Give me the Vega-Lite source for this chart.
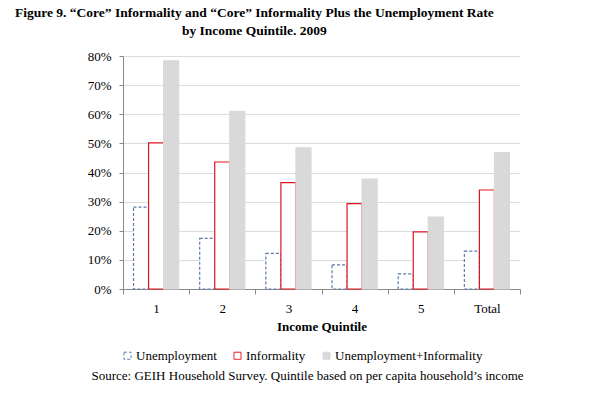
{
  "$schema": "https://vega.github.io/schema/vega-lite/v6.json",
  "background": "white",
  "padding": {"left": 14, "top": 5, "right": 5, "bottom": 5},
  "title": {
    "text": ["Figure 9. “Core” Informality and “Core” Informality Plus the Unemployment Rate", "by Income Quintile. 2009"],
    "font": "Liberation Serif",
    "fontSize": 13.5,
    "fontWeight": "bold",
    "color": "black",
    "anchor": "middle",
    "lineHeight": 18,
    "dx": -51,
    "offset": 13
  },
  "config": {
    "view": {"stroke": null},
    "font": "Liberation Serif",
    "concat": {"spacing": 35}
  },
  "datasets": {
    "bars": [
      {"quintile": "1", "series": "Unemployment", "value": 0.281},
      {"quintile": "1", "series": "Informality", "value": 0.502},
      {"quintile": "1", "series": "Unemployment+Informality", "value": 0.783},
      {"quintile": "2", "series": "Unemployment", "value": 0.174},
      {"quintile": "2", "series": "Informality", "value": 0.436},
      {"quintile": "2", "series": "Unemployment+Informality", "value": 0.61},
      {"quintile": "3", "series": "Unemployment", "value": 0.122},
      {"quintile": "3", "series": "Informality", "value": 0.365},
      {"quintile": "3", "series": "Unemployment+Informality", "value": 0.485},
      {"quintile": "4", "series": "Unemployment", "value": 0.083},
      {"quintile": "4", "series": "Informality", "value": 0.293},
      {"quintile": "4", "series": "Unemployment+Informality", "value": 0.377},
      {"quintile": "5", "series": "Unemployment", "value": 0.052},
      {"quintile": "5", "series": "Informality", "value": 0.196},
      {"quintile": "5", "series": "Unemployment+Informality", "value": 0.247},
      {"quintile": "Total", "series": "Unemployment", "value": 0.13},
      {"quintile": "Total", "series": "Informality", "value": 0.34},
      {"quintile": "Total", "series": "Unemployment+Informality", "value": 0.468}
    ],
    "source": [
      {"note": "Source: GEIH Household Survey. Quintile based on per capita household’s income"}
    ]
  },
  "vconcat": [
    {
      "width": 397,
      "height": 233,
      "data": {"name": "bars"},
      "mark": {"type": "bar", "strokeWidth": 1.2},
      "encoding": {
        "x": {
          "field": "quintile",
          "type": "nominal",
          "sort": ["1", "2", "3", "4", "5", "Total"],
          "scale": {"paddingInner": 0, "paddingOuter": 0},
          "axis": {
            "title": "Income Quintile",
            "titleFont": "Liberation Serif",
            "titleFontSize": 13,
            "titleFontWeight": "bold",
            "titleColor": "black",
            "titlePadding": 5,
            "labelAngle": 0,
            "labelFont": "Liberation Serif",
            "labelFontSize": 13,
            "labelColor": "black",
            "labelPadding": 8,
            "tickBand": "extent",
            "tickSize": 5,
            "tickColor": "#888888",
            "domainColor": "#888888",
            "grid": false
          }
        },
        "xOffset": {
          "field": "series",
          "type": "nominal",
          "sort": ["Unemployment", "Informality", "Unemployment+Informality"],
          "scale": {"paddingInner": 0, "paddingOuter": 0.7}
        },
        "y": {
          "field": "value",
          "type": "quantitative",
          "scale": {"domain": [0, 0.8], "nice": false},
          "axis": {
            "title": null,
            "format": ".0%",
            "values": [0, 0.1, 0.2, 0.3, 0.4, 0.5, 0.6, 0.7, 0.8],
            "labelFont": "Liberation Serif",
            "labelFontSize": 13,
            "labelColor": "black",
            "labelPadding": 8,
            "tickSize": 4,
            "tickColor": "#888888",
            "domainColor": "#888888",
            "gridColor": "#dcdcdc"
          }
        },
        "fill": {
          "field": "series",
          "type": "nominal",
          "scale": {
            "domain": ["Unemployment", "Informality", "Unemployment+Informality"],
            "range": ["#ffffff", "#ffffff", "#d9d9d9"]
          },
          "legend": {
            "title": null,
            "orient": "none",
            "legendX": -2,
            "legendY": 293,
            "direction": "horizontal",
            "symbolType": "square",
            "symbolSize": 50,
            "symbolStrokeWidth": 1,
            "labelFont": "Liberation Serif",
            "labelFontSize": 13,
            "labelColor": "black",
            "labelOffset": 2,
            "columnPadding": 14
          }
        },
        "stroke": {
          "field": "series",
          "type": "nominal",
          "scale": {
            "domain": ["Unemployment", "Informality", "Unemployment+Informality"],
            "range": ["#5b7bab", "#e0141e", "#d9d9d9"]
          }
        },
        "strokeDash": {
          "field": "series",
          "type": "nominal",
          "scale": {
            "domain": ["Unemployment", "Informality", "Unemployment+Informality"],
            "range": [[3, 2], [1, 0], [1, 0]]
          }
        }
      }
    },
    {
      "width": 397,
      "height": 16,
      "data": {"name": "source"},
      "mark": {"type": "text", "font": "Liberation Serif", "fontSize": 13, "color": "black", "dx": -14, "baseline": "middle"},
      "encoding": {"text": {"field": "note"}}
    }
  ]
}
